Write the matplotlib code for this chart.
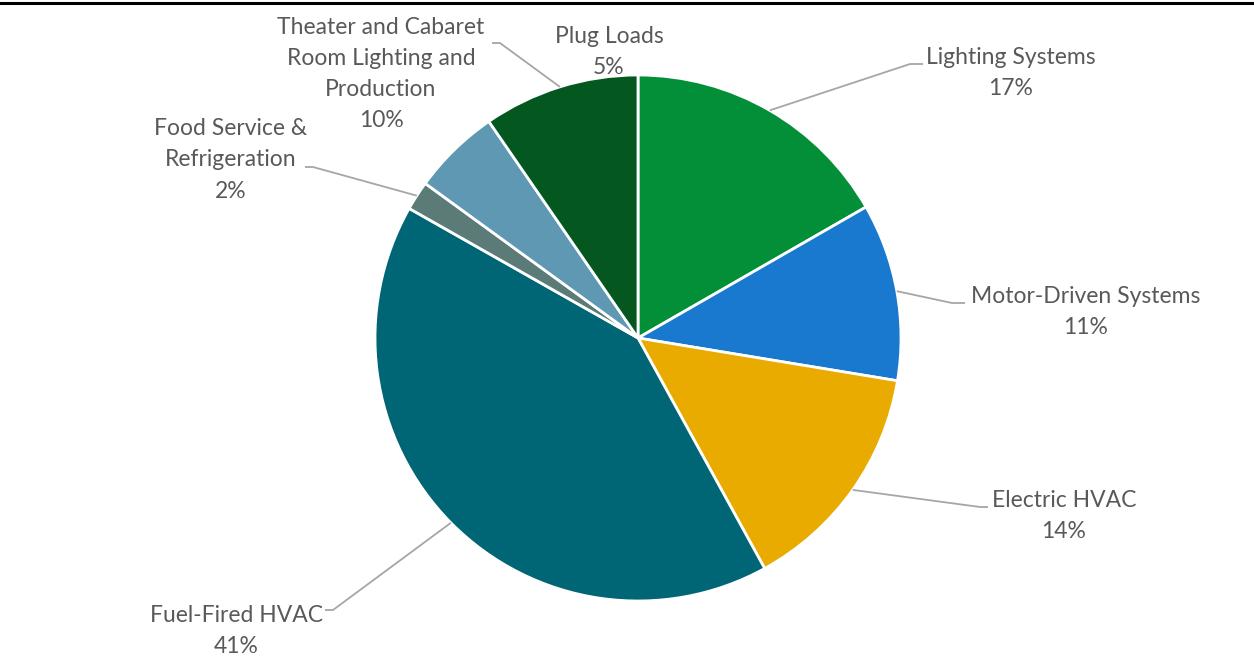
import numpy as np
import matplotlib
matplotlib.use("Agg")
import matplotlib.pyplot as plt

# data, clockwise from 12 o'clock
categories = ["Lighting Systems", "Motor-Driven Systems", "Electric HVAC",
              "Fuel-Fired HVAC", "Food Service &\nRefrigeration", "Plug Loads",
              "Theater and Cabaret\nRoom Lighting and\nProduction"]
shares = [16.7, 10.9, 14.4, 41.2, 1.8, 5.4, 9.6]
colors = ["#038f38", "#1879cf", "#e9ab00", "#006675", "#5a7b77", "#5f98b3", "#03571f"]

# label layout in pixel coords (x, y from top), bend point of leader, end of leader
label_xy = [(1011, 73), (1086, 312), (1064, 516), (236, 631), (231, 160), (609, 52), (381, 74)]
bends = [(910, 64), (952, 303), (980, 507), (333, 610), (313, 167), None, (500, 43)]
ends = [(923, 64), (965, 303), (988, 507), (325, 610), (305, 167), None, (492, 43)]

W, H = 1254, 656
fig = plt.figure(figsize=(W / 100, H / 100), dpi=100)
ax = fig.add_axes([0, 0, 1, 1])

cx, cy, r = 638, H - 338, 263
wedges, _ = ax.pie(shares, colors=colors, startangle=90, counterclock=False,
                   center=(cx, cy), radius=r, frame=True,
                   wedgeprops=dict(edgecolor="white", linewidth=2))
ax.set_xlim(0, W)
ax.set_ylim(0, H)
ax.axis("off")

fnt = dict(family=["Lato", "DejaVu Sans"], size=16.5, color="#595959")
gray = "#a6a6a6"
for i, w in enumerate(wedges):
    txt = "%s\n%d%%" % (categories[i], round(shares[i]))
    lx, ly = label_xy[i]
    ax.text(lx, H - ly, txt, ha="center", va="center", linespacing=1.6, **fnt)
    if bends[i] is None:
        continue
    # leader starts at the middle of the wedge's arc
    a = np.deg2rad((w.theta1 + w.theta2) / 2)
    sx, sy = cx + r * np.cos(a), cy + r * np.sin(a)
    bx, by = bends[i]
    ex, ey = ends[i]
    ax.plot([sx, bx, ex], [sy, H - by, H - ey], color=gray, lw=1.3, solid_capstyle="butt")

# rule along the top
ax.plot([0, W], [H - 3, H - 3], color="black", lw=2.2, clip_on=False)

fig.savefig("out.png", dpi=100)
